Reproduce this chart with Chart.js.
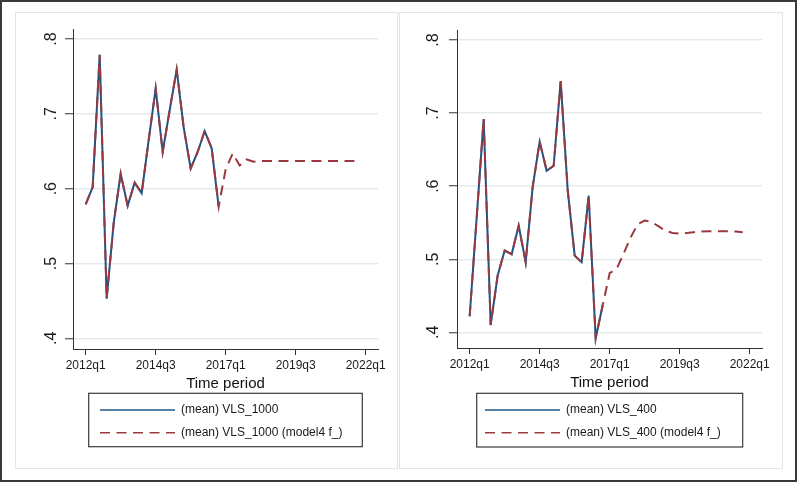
<!DOCTYPE html>
<html>
<head>
<meta charset="utf-8">
<script src="https://cdn.jsdelivr.net/npm/chart.js@4.4.1/dist/chart.umd.min.js"></script>
<style>
  html, body { margin: 0; padding: 0; background: #fff; }
  #frame { position: absolute; left: 0; top: 0; width: 797px; height: 482px; box-sizing: border-box; border: 2px solid #3a3a3a; }
  .panel { position: absolute; top: 12px; height: 457px; box-sizing: border-box; border: 1px solid #dde6e9; }
  canvas { position: absolute; top: 12px; }
</style>
</head>
<body>
<div id="frame"></div>
<div class="panel" style="left:15px;width:383px"></div>
<div class="panel" style="left:399px;width:384px"></div>
<canvas id="chart_1" width="382" height="457" style="left:15px"></canvas>
<canvas id="chart_2" width="383" height="457" style="left:400px"></canvas>
<script>
// quarters of the sample + forecast horizon
const periods = [
  '2012q1','2012q2','2012q3','2012q4','2013q1','2013q2','2013q3','2013q4',
  '2014q1','2014q2','2014q3','2014q4','2015q1','2015q2','2015q3','2015q4',
  '2016q1','2016q2','2016q3','2016q4','2017q1','2017q2','2017q3','2017q4',
  '2018q1','2018q2','2018q3','2018q4','2019q1','2019q2','2019q3','2019q4',
  '2020q1','2020q2','2020q3','2020q4','2021q1','2021q2','2021q3','2021q4'
];

const vls1000Names = ['(mean) VLS_1000', '(mean) VLS_1000 (model4 f_)'];
const vls1000 = [0.579, 0.602, 0.779, 0.453, 0.554, 0.620, 0.577, 0.608, 0.594, 0.665,
                 0.734, 0.649, 0.705, 0.759, 0.682, 0.627, 0.649, 0.677, 0.654, 0.576];
const vls1000Forecast = [0.579, 0.602, 0.779, 0.453, 0.554, 0.620, 0.577, 0.608, 0.594, 0.665,
                         0.734, 0.649, 0.705, 0.759, 0.682, 0.627, 0.649, 0.677, 0.654, 0.576,
                         0.626, 0.647, 0.631, 0.639, 0.636, 0.637, 0.637, 0.637, 0.637, 0.637,
                         0.637, 0.637, 0.637, 0.637, 0.637, 0.637, 0.637, 0.637, 0.637, 0.637];

const vls400Names = ['(mean) VLS_400', '(mean) VLS_400 (model4 f_)'];
const vls400 = [0.422, 0.557, 0.692, 0.410, 0.478, 0.512, 0.507, 0.546, 0.496, 0.599,
                0.661, 0.621, 0.628, 0.744, 0.595, 0.505, 0.496, 0.587, 0.392, 0.437];
const vls400Forecast = [0.422, 0.557, 0.692, 0.410, 0.478, 0.512, 0.507, 0.546, 0.496, 0.599,
                        0.661, 0.621, 0.628, 0.744, 0.595, 0.505, 0.496, 0.587, 0.392, 0.437,
                        0.481, 0.487, 0.508, 0.530, 0.548, 0.553, 0.551, 0.545, 0.539, 0.536,
                        0.535, 0.536, 0.537, 0.538, 0.5385, 0.5385, 0.5385, 0.5385, 0.538, 0.537];

const xTickLabels = ['2012q1', '2014q3', '2017q1', '2019q3', '2022q1'];
const yTicks = [0.4, 0.5, 0.6, 0.7, 0.8];
const yTickLabels = ['.4', '.5', '.6', '.7', '.8'];

const FONT = "'Liberation Sans', Arial, sans-serif";
const BLUE = '#1f5384';
const RED = '#9a3a40';

function quarterIndex(p) {
  return (parseInt(p.slice(0, 4)) - 2012) * 4 + parseInt(p.slice(5)) - 1;
}
function toPoints(values) {
  return values.map((v, i) => ({x: quarterIndex(periods[i]), y: v}));
}

// moves the legend to its box under the axis title and draws the frame round it
const legendFrame = {
  id: 'legendFrame',
  afterLayout(chart, args, opts) {
    const lg = chart.legend;
    const b = opts.box;
    lg.left = opts.lineX - lg.options.labels.padding;
    lg.top = b[1];
    lg.right = b[2];
    lg.bottom = b[3] + 30;
    lg.width = lg.right - lg.left;
    lg.height = lg.bottom - lg.top;
  },
  afterDraw(chart, args, opts) {
    const c = chart.ctx;
    const b = opts.box;
    c.save();
    c.strokeStyle = '#3a3a3a';
    c.lineWidth = 1.2;
    c.strokeRect(b[0], b[1], b[2] - b[0], b[3] - b[1]);
    c.restore();
  }
};

function legendLabels(chart) {
  const items = Chart.defaults.plugins.legend.labels.generateLabels(chart);
  items.forEach(it => {
    const ds = chart.data.datasets[it.datasetIndex];
    it.lineDash = ds.borderDash || [];
    it.strokeStyle = ds.borderColor;
    it.lineWidth = 1.6;
  });
  return items.sort((a, b) => a.datasetIndex - b.datasetIndex);
}

function makeChart(id, names, actual, forecast, lay) {
  const ctx = document.getElementById(id);
  const data = {
    datasets: [{
      label: names[0],
      data: toPoints(actual),
      borderColor: BLUE,
      backgroundColor: BLUE,
      borderWidth: 2,
      order: 1
    }, {
      label: names[1],
      data: toPoints(forecast),
      borderColor: RED,
      backgroundColor: RED,
      borderWidth: 2,
      borderDash: [10, 6.5],
      order: 0
    }]
  };
  const config = {
    type: 'line',
    data: data,
    plugins: [legendFrame],
    options: {
      responsive: false,
      animation: false,
      events: [],
      elements: { point: { radius: 0 }, line: { tension: 0 } },
      layout: { padding: { top: 17, right: lay.padRight, bottom: lay.padBottom, left: 0 } },
      scales: {
        x: {
          type: 'linear',
          min: -1.81,
          max: 41.76,
          afterBuildTicks: (s) => { s.ticks = xTickLabels.map(l => ({value: quarterIndex(l)})); },
          afterFit: (s) => { s.height = 44; },
          ticks: {
            autoSkip: false, maxRotation: 0, padding: 3, color: '#1a1a1a',
            font: { family: FONT, size: 12 },
            callback: (v) => xTickLabels.find(l => quarterIndex(l) === v)
          },
          grid: { drawOnChartArea: false, tickLength: 6, tickColor: '#333', tickWidth: 1 },
          border: { color: '#333', width: 1 },
          title: { display: true, text: 'Time period', color: '#111', padding: 0,
                   font: { family: FONT, size: 15 } }
        },
        y: {
          min: lay.yMin,
          max: lay.yMax,
          afterBuildTicks: (s) => { s.ticks = yTicks.map(v => ({value: v})); },
          afterFit: (s) => { s.width = lay.yWidth; },
          ticks: {
            autoSkip: false, minRotation: 90, maxRotation: 90, crossAlign: 'center',
            padding: lay.yPad, color: '#1a1a1a',
            font: { family: FONT, size: 16 },
            callback: (v) => yTickLabels[yTicks.indexOf(v)]
          },
          grid: { color: '#e3ebee', lineWidth: 1.5, tickColor: '#333', tickLength: 8, tickWidth: 1 },
          border: { color: '#333', width: 1 }
        }
      },
      plugins: {
        tooltip: { enabled: false },
        legend: {
          position: 'chartArea',
          align: 'start',
          labels: {
            usePointStyle: true, pointStyle: 'line', pointStyleWidth: 75,
            padding: 10.7, color: '#1a1a1a',
            font: { family: FONT, size: 12 },
            generateLabels: legendLabels
          }
        },
        legendFrame: { box: lay.legendBox, lineX: lay.lineX }
      }
    }
  };
  new Chart(ctx, config);
}

makeChart('chart_1', vls1000Names, vls1000, vls1000Forecast, {
  padRight: 19, padBottom: 76, yWidth: 58, yPad: 7,
  yMin: 0.3857, yMax: 0.8134,
  legendBox: [73.7, 381.3, 347.3, 434.7], lineX: 85
});
makeChart('chart_2', vls400Names, vls400, vls400Forecast, {
  padRight: 21, padBottom: 77, yWidth: 57, yPad: 8.5,
  yMin: 0.3786, yMax: 0.8136,
  legendBox: [76.7, 381.3, 342.7, 435], lineX: 85
});
</script>
</body>
</html>
